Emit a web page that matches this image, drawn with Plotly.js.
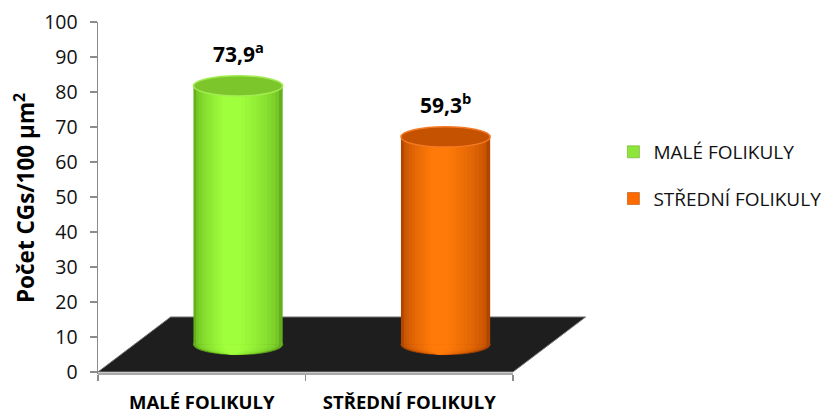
<!DOCTYPE html>
<html>
<head>
<meta charset="utf-8">
<script src="https://cdn.plot.ly/plotly-3.0.1.min.js"></script>
<style>
  html, body { margin: 0; padding: 0; background: #ffffff; }
  #chart { width: 838px; height: 412px; }
</style>
</head>
<body>
<div id="chart"></div>
<script>
// ---- data ----
const categories = ['MALÉ FOLIKULY', 'STŘEDNÍ FOLIKULY'];
const values = [73.9, 59.3];
const sigLetters = ['a', 'b'];
const yTickValues = [0, 10, 20, 30, 40, 50, 60, 70, 80, 90, 100];
const yTitle = 'Počet CGs/100 µm<sup>2</sup>';

// ---- style ----
const FONT = 'Open Sans, Liberation Sans, sans-serif';
const AXIS_GRAY = '#8c8c8c';
const DEPTH_X = 0.35;   // floor depth, horizontal (category units)
const DEPTH_Y = 15.7;   // floor depth, vertical (value units)
const BASE = DEPTH_Y / 2;
const BAR_W = 0.43;
const BAR_OFF = DEPTH_X / 2 - BAR_W / 2;
const RY_TOP = 2.9;
const RY_BOT = 2.9;
const N_SHADES = 12;
const edgeColor = [[100, 176, 28], [176, 70, 0]];
const lightColor = [[160, 255, 60], [255, 122, 8]];
const topFill = ['#7cc62c', '#c45200'];
const topRim = ['#a2ec52', '#f57a24'];
const bottomRim = ['#5a9c18', '#a54200'];
const legendColor = ['#8fe63a', '#ff6a00'];

function mix(a, b, t) {
  return 'rgb(' + a.map((v, j) => Math.round(v + (b[j] - v) * t)).join(',') + ')';
}

const traces = [];
const shapes = [];

// floor (3D-style base plane)
shapes.push({
  type: 'path', layer: 'below', xref: 'x', yref: 'y',
  path: `M ${-0.5},0 L ${1.5},0 L ${1.5 + DEPTH_X},${DEPTH_Y} L ${-0.5 + DEPTH_X},${DEPTH_Y} Z`,
  fillcolor: '#1e1e1e', line: { color: '#777777', width: 1 }
});

categories.forEach((cat, i) => {
  for (let k = 0; k < N_SHADES; k++) {
    const t = k / (N_SHADES - 1);
    const f = 1 - 0.8 * t;
    const w = BAR_W * f;
    const off = BAR_OFF + (BAR_W - w) * 0.42;
    const col = mix(edgeColor[i], lightColor[i], Math.sqrt(t));
    traces.push({
      type: 'bar',
      x: [i], y: [values[i]], base: BASE,
      width: w, offset: off,
      name: cat,
      legendgroup: 'g' + i,
      showlegend: false,
      marker: { color: col, line: { width: 0 } },
      hoverinfo: 'skip'
    });
    shapes.push({
      type: 'circle', layer: 'below', xref: 'x', yref: 'y',
      x0: i + off, x1: i + off + w,
      y0: BASE - RY_BOT, y1: BASE + RY_BOT,
      fillcolor: col,
      line: k === 0 ? { color: bottomRim[i], width: 1 } : { width: 0 }
    });
  }
  // top ellipse
  shapes.push({
    type: 'circle', layer: 'above', xref: 'x', yref: 'y',
    x0: i + BAR_OFF, x1: i + BAR_OFF + BAR_W,
    y0: BASE + values[i] - RY_TOP, y1: BASE + values[i] + RY_TOP,
    fillcolor: topFill[i], line: { color: topRim[i], width: 1.5 }
  });
});

// legend-only traces with the flat series colour
categories.forEach((cat, i) => {
  traces.push({
    type: 'bar', x: [null], y: [null], name: cat,
    legendgroup: 'g' + i, showlegend: true,
    marker: { color: legendColor[i], line: { width: 0.5, color: bottomRim[i] } },
    hoverinfo: 'skip'
  });
});

// visible x-axis line spanning only the categories
shapes.push({
  type: 'line', layer: 'above', xref: 'x', yref: 'paper',
  x0: -0.5, x1: 1.5, y0: 0, y1: 0,
  line: { color: AXIS_GRAY, width: 1.5 }
});

const annotations = categories.map((cat, i) => ({
  xref: 'x', yref: 'y',
  x: i + BAR_OFF + BAR_W / 2, y: BASE + values[i],
  yshift: 33,
  text: `${values[i].toFixed(1).replace('.', ',')}<sup>${sigLetters[i]}</sup>`,
  showarrow: false,
  font: { family: FONT, size: 21, color: '#000000', weight: 'bold' }
}));

const layout = {
  width: 838, height: 412,
  margin: { l: 98, r: 231, t: 22, b: 38 },
  paper_bgcolor: '#ffffff', plot_bgcolor: 'rgba(0,0,0,0)',
  barmode: 'overlay',
  hovermode: false,
  showlegend: true,
  legend: {
    x: 1.035, xanchor: 'left', y: 0.564, yanchor: 'middle',
    traceorder: 'grouped', tracegroupgap: 19,
    font: { family: FONT, size: 19, color: '#111111' },
    bgcolor: 'rgba(0,0,0,0)'
  },
  xaxis: {
    type: 'linear', range: [-0.5, 1.9],
    tickmode: 'array', tickvals: [0, 1], ticktext: categories,
    ticks: '', showline: false, showgrid: false, zeroline: false,
    ticklabelstandoff: 15,
    tickfont: { family: FONT, size: 18.5, color: '#000000', weight: 'bold' },
    minor: { tickmode: 'array', tickvals: [-0.5, 0.5, 1.5], ticks: 'outside',
             ticklen: 6, tickwidth: 1.5, tickcolor: AXIS_GRAY, showgrid: false },
    fixedrange: true
  },
  yaxis: {
    range: [-0.6, 100],
    tickmode: 'array', tickvals: yTickValues,
    ticks: 'outside', ticklen: 7, tickwidth: 1.5, tickcolor: AXIS_GRAY,
    showline: true, linecolor: AXIS_GRAY, linewidth: 1.5,
    showgrid: false, zeroline: false,
    ticklabelstandoff: 8,
    tickfont: { family: FONT, size: 19.5, color: '#111111' },
    title: { text: yTitle, standoff: 3,
             font: { family: FONT, size: 22.5, color: '#000000', weight: 'bold' } },
    fixedrange: true
  },
  shapes: shapes,
  annotations: annotations
};

Plotly.newPlot('chart', traces, layout, { displayModeBar: false, staticPlot: true });
</script>
</body>
</html>
